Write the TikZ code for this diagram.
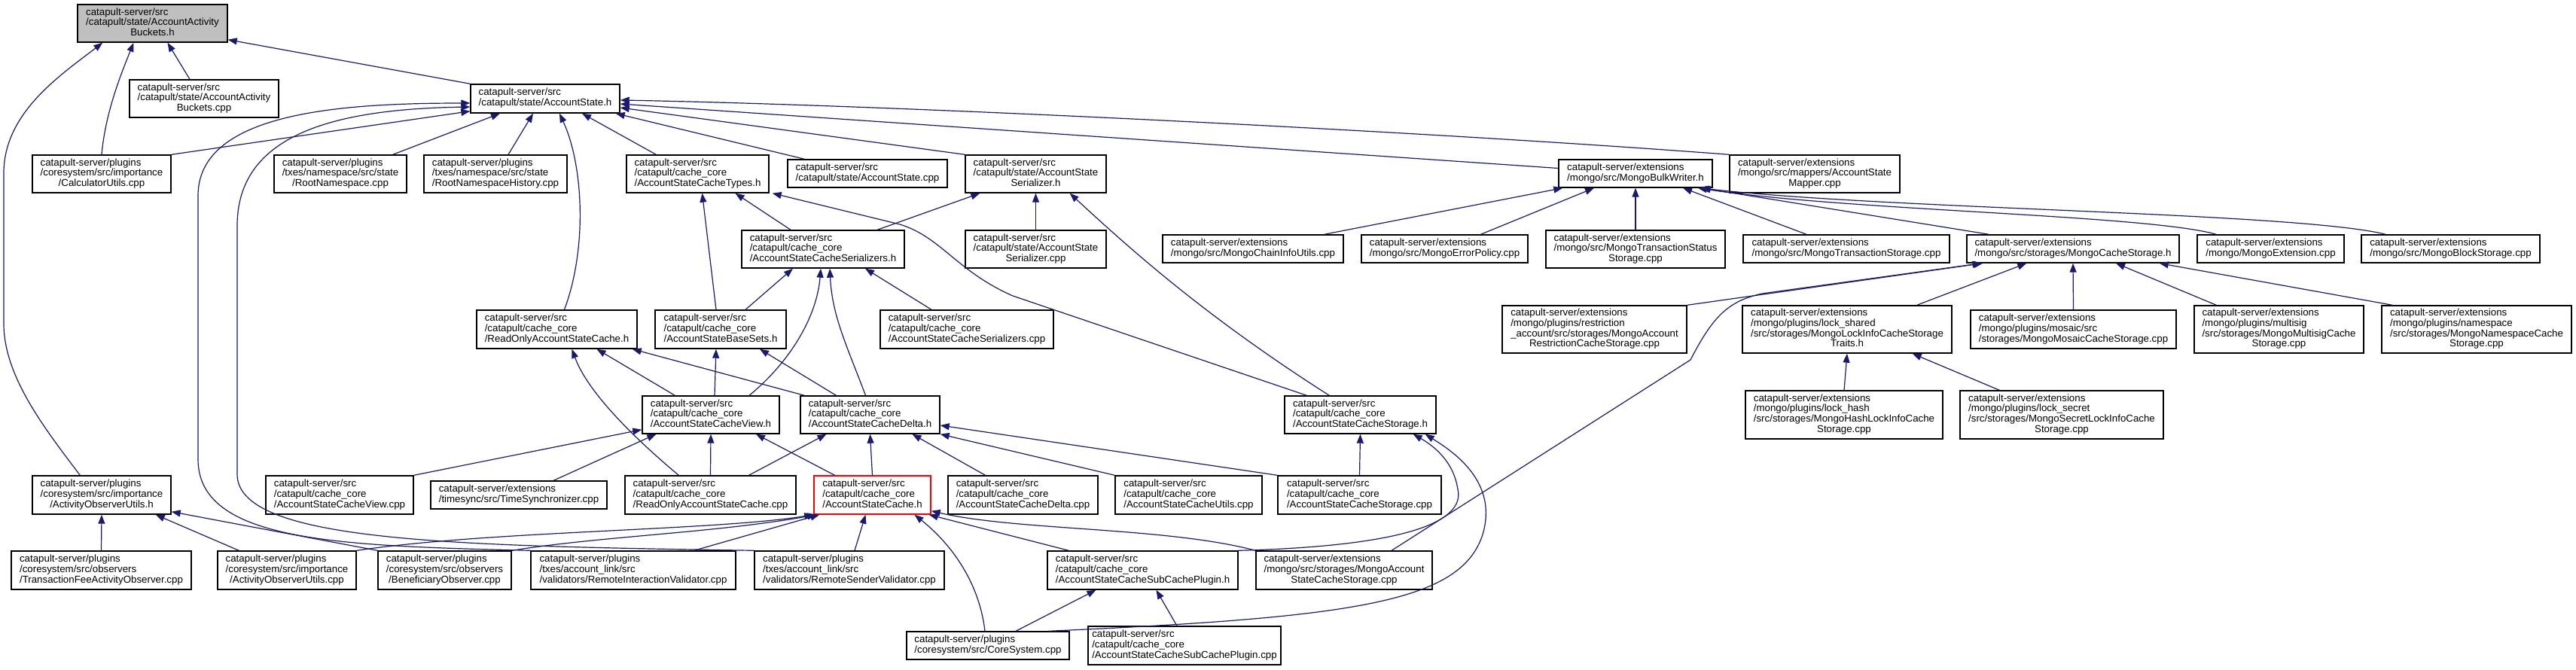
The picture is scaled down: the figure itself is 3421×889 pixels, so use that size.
\documentclass[tikz,border=0pt]{standalone}
\usepackage{fontspec}
\setmainfont{Liberation Sans}
\usetikzlibrary{arrows.meta}
\definecolor{midnight}{RGB}{25,25,112}
\definecolor{graybox}{RGB}{191,191,191}
% 文件名: 前几行左对齐, 最后一行居中
\newcommand{\fl}[2]{\begin{tabular}{@{}l@{}}#1\\\multicolumn{1}{@{}c@{}}{#2}\end{tabular}}

\begin{document}
\begin{tikzpicture}[x=1pt,y=-1pt,
  file/.style={draw=black, line width=1.4pt, fill=white, inner sep=0pt,
    font=\fontsize{13.3}{13.6}\selectfont},
  dep/.style={draw=midnight, line width=1.2pt, -{Triangle[length=12pt,width=9pt]}}]
  \useasboundingbox (0,0) rectangle (3421,889);
  % 第一层
  \node[file, fill=graybox, minimum width=199, minimum height=50] (aabh) at (202.5,31)
    {\fl{catapult-server/src\\/catapult/state/AccountActivity}{Buckets.h}};
  \node[file, minimum width=198, minimum height=50] (aabcpp) at (271,131)
    {\fl{catapult-server/src\\/catapult/state/AccountActivity}{Buckets.cpp}};
  \node[file, minimum width=198, minimum height=38] (ash) at (724,131)
    {\fl{catapult-server/src}{/catapult/state/AccountState.h}};
  % 第二层
  \node[file, minimum width=184, minimum height=50] (calc) at (135,231)
    {\fl{catapult-server/plugins\\/coresystem/src/importance}{/CalculatorUtils.cpp}};
  \node[file, minimum width=176, minimum height=50] (rootns) at (452,231)
    {\fl{catapult-server/plugins\\/txes/namespace/src/state}{/RootNamespace.cpp}};
  \node[file, minimum width=190, minimum height=50] (rootnsh) at (658,231)
    {\fl{catapult-server/plugins\\/txes/namespace/src/state}{/RootNamespaceHistory.cpp}};
  \node[file, minimum width=189, minimum height=50] (types) at (926.5,231)
    {\fl{catapult-server/src\\/catapult/cache\_core}{/AccountStateCacheTypes.h}};
  \node[file, minimum width=212, minimum height=37] (ascpp) at (1152,230.5)
    {\fl{catapult-server/src}{/catapult/state/AccountState.cpp}};
  \node[file, minimum width=187, minimum height=50] (sersh) at (1375.5,231)
    {\fl{catapult-server/src\\/catapult/state/AccountState}{Serializer.h}};
  \node[file, minimum width=204, minimum height=37] (bulk) at (2172,230.5)
    {\fl{catapult-server/extensions}{/mongo/src/MongoBulkWriter.h}};
  \node[file, minimum width=226, minimum height=50] (mapper) at (2410,231)
    {\fl{catapult-server/extensions\\/mongo/src/mappers/AccountState}{Mapper.cpp}};
  % 第三层
  \node[file, minimum width=216, minimum height=50] (cser) at (1093,331)
    {\fl{catapult-server/src\\/catapult/cache\_core}{/AccountStateCacheSerializers.h}};
  \node[file, minimum width=187, minimum height=50] (serscpp) at (1375.5,331)
    {\fl{catapult-server/src\\/catapult/state/AccountState}{Serializer.cpp}};
  \node[file, minimum width=240, minimum height=37] (chaininfo) at (1664,330.5)
    {\fl{catapult-server/extensions}{/mongo/src/MongoChainInfoUtils.cpp}};
  \node[file, minimum width=221, minimum height=37] (errpol) at (1918.5,330.5)
    {\fl{catapult-server/extensions}{/mongo/src/MongoErrorPolicy.cpp}};
  \node[file, minimum width=238, minimum height=50] (txstatus) at (2172,331)
    {\fl{catapult-server/extensions\\/mongo/src/MongoTransactionStatus}{Storage.cpp}};
  \node[file, minimum width=274, minimum height=37] (txstore) at (2452,330.5)
    {\fl{catapult-server/extensions}{/mongo/src/MongoTransactionStorage.cpp}};
  \node[file, minimum width=282, minimum height=37] (mcs) at (2753,330.5)
    {\fl{catapult-server/extensions}{/mongo/src/storages/MongoCacheStorage.h}};
  \node[file, minimum width=195, minimum height=37] (mext) at (3015.5,330.5)
    {\fl{catapult-server/extensions}{/mongo/MongoExtension.cpp}};
  \node[file, minimum width=237, minimum height=37] (mblock) at (3254.5,330.5)
    {\fl{catapult-server/extensions}{/mongo/src/MongoBlockStorage.cpp}};
  % 第四层
  \node[file, minimum width=213, minimum height=51] (rocache) at (739.5,437.5)
    {\fl{catapult-server/src\\/catapult/cache\_core}{/ReadOnlyAccountStateCache.h}};
  \node[file, minimum width=174, minimum height=51] (basesets) at (957,437.5)
    {\fl{catapult-server/src\\/catapult/cache\_core}{/AccountStateBaseSets.h}};
  \node[file, minimum width=230, minimum height=51] (csercpp) at (1284,437.5)
    {\fl{catapult-server/src\\/catapult/cache\_core}{/AccountStateCacheSerializers.cpp}};
  \node[file, minimum width=245, minimum height=63] (restr) at (2117.5,437.5)
    {\fl{catapult-server/extensions\\/mongo/plugins/restriction\\\_account/src/storages/MongoAccount}{RestrictionCacheStorage.cpp}};
  \node[file, minimum width=278, minimum height=63] (traits) at (2453,437.5)
    {\fl{catapult-server/extensions\\/mongo/plugins/lock\_shared\\/src/storages/MongoLockInfoCacheStorage}{Traits.h}};
  \node[file, minimum width=273, minimum height=51] (mosaic) at (2753.5,437.5)
    {\fl{catapult-server/extensions\\/mongo/plugins/mosaic/src}{/storages/MongoMosaicCacheStorage.cpp}};
  \node[file, minimum width=225, minimum height=63] (multisig) at (3026.5,437.5)
    {\fl{catapult-server/extensions\\/mongo/plugins/multisig\\/src/storages/MongoMultisigCache}{Storage.cpp}};
  \node[file, minimum width=252, minimum height=63] (nsstore) at (3289,437.5)
    {\fl{catapult-server/extensions\\/mongo/plugins/namespace\\/src/storages/MongoNamespaceCache}{Storage.cpp}};
  % 第五层
  \node[file, minimum width=182, minimum height=50] (view) at (944,551)
    {\fl{catapult-server/src\\/catapult/cache\_core}{/AccountStateCacheView.h}};
  \node[file, minimum width=185, minimum height=50] (delta) at (1155.5,551)
    {\fl{catapult-server/src\\/catapult/cache\_core}{/AccountStateCacheDelta.h}};
  \node[file, minimum width=201, minimum height=50] (storh) at (1806.5,551)
    {\fl{catapult-server/src\\/catapult/cache\_core}{/AccountStateCacheStorage.h}};
  \node[file, minimum width=262, minimum height=64] (hashlock) at (2449,551)
    {\fl{catapult-server/extensions\\/mongo/plugins/lock\_hash\\/src/storages/MongoHashLockInfoCache}{Storage.cpp}};
  \node[file, minimum width=270, minimum height=64] (secretlock) at (2738,551)
    {\fl{catapult-server/extensions\\/mongo/plugins/lock\_secret\\/src/storages/MongoSecretLockInfoCache}{Storage.cpp}};
  % 第六层
  \node[file, minimum width=184, minimum height=51] (aouh) at (135,657.5)
    {\fl{catapult-server/plugins\\/coresystem/src/importance}{/ActivityObserverUtils.h}};
  \node[file, minimum width=196, minimum height=51] (viewcpp) at (451,657.5)
    {\fl{catapult-server/src\\/catapult/cache\_core}{/AccountStateCacheView.cpp}};
  \node[file, minimum width=234, minimum height=37] (timesync) at (689,657.5)
    {\fl{catapult-server/extensions}{/timesync/src/TimeSynchronizer.cpp}};
  \node[file, minimum width=227, minimum height=51] (rocpp) at (943.5,657.5)
    {\fl{catapult-server/src\\/catapult/cache\_core}{/ReadOnlyAccountStateCache.cpp}};
  \node[file, draw=red, minimum width=155, minimum height=51] (cache) at (1158.5,657.5)
    {\fl{catapult-server/src\\/catapult/cache\_core}{/AccountStateCache.h}};
  \node[file, minimum width=199, minimum height=51] (deltacpp) at (1358.5,657.5)
    {\fl{catapult-server/src\\/catapult/cache\_core}{/AccountStateCacheDelta.cpp}};
  \node[file, minimum width=195, minimum height=51] (utilscpp) at (1578.5,657.5)
    {\fl{catapult-server/src\\/catapult/cache\_core}{/AccountStateCacheUtils.cpp}};
  \node[file, minimum width=217, minimum height=51] (storcpp) at (1805.5,657.5)
    {\fl{catapult-server/src\\/catapult/cache\_core}{/AccountStateCacheStorage.cpp}};
  % 第七层
  \node[file, minimum width=239, minimum height=51] (feeobs) at (134.5,757.5)
    {\fl{catapult-server/plugins\\/coresystem/src/observers}{/TransactionFeeActivityObserver.cpp}};
  \node[file, minimum width=184, minimum height=51] (aoucpp) at (381,757.5)
    {\fl{catapult-server/plugins\\/coresystem/src/importance}{/ActivityObserverUtils.cpp}};
  \node[file, minimum width=177, minimum height=51] (benef) at (590.5,757.5)
    {\fl{catapult-server/plugins\\/coresystem/src/observers}{/BeneficiaryObserver.cpp}};
  \node[file, minimum width=272, minimum height=51] (remint) at (841,757.5)
    {\fl{catapult-server/plugins\\/txes/account\_link/src}{/validators/RemoteInteractionValidator.cpp}};
  \node[file, minimum width=252, minimum height=51] (remsend) at (1128,757.5)
    {\fl{catapult-server/plugins\\/txes/account\_link/src}{/validators/RemoteSenderValidator.cpp}};
  \node[file, minimum width=253, minimum height=51] (subh) at (1517.5,757.5)
    {\fl{catapult-server/src\\/catapult/cache\_core}{/AccountStateCacheSubCachePlugin.h}};
  \node[file, minimum width=234, minimum height=51] (mascs) at (1785,757.5)
    {\fl{catapult-server/extensions\\/mongo/src/storages/MongoAccount}{StateCacheStorage.cpp}};
  % 第八层
  \node[file, minimum width=216, minimum height=37] (coresys) at (1312,857.5)
    {\fl{catapult-server/plugins}{/coresystem/src/CoreSystem.cpp}};
  \node[file, minimum width=256, minimum height=51] (subcpp) at (1573,857.5)
    {\fl{catapult-server/src\\/catapult/cache\_core}{/AccountStateCacheSubCachePlugin.cpp}};

  % AccountActivityBuckets.h
  \draw[dep] ([xshift=64]aouh.north west) .. controls (60,570) and (5,500) .. (5,430)
    -- (5,230) .. controls (5,150) and (80,100) .. ([xshift=34]aabh.south west);
  \draw[dep] (calc.north) .. controls (140,150) and (160,100) .. ([xshift=-25]aabh.south);
  \draw[dep] ([xshift=-19]aabcpp.north) -- ([xshift=20]aabh.south);
  \draw[dep] (ash.north west) -- ([yshift=4]aabh.south east);
  % AccountState.h
  \draw[dep] (calc.north east) -- ([yshift=3]ash.south west);
  \draw[dep] (remint.north west) .. controls (450,725) and (263,720) .. (263,610)
    -- (263,260) .. controls (263,150) and (450,137) .. ([yshift=-6]ash.west);
  \draw[dep] (remsend.north west) .. controls (600,725) and (315,720) .. (315,630)
    -- (315,300) .. controls (315,180) and (440,145) .. ([yshift=-11]ash.west);
  \draw[dep] ([xshift=-19]rootns.north east) -- ([xshift=-60]ash.south);
  \draw[dep] ([xshift=17]rootnsh.north) -- ([xshift=-16]ash.south);
  \draw[dep] ([xshift=10]rocache.north) .. controls (780,330) and (775,220) .. ([xshift=19]ash.south);
  \draw[dep] ([xshift=40]types.north west) -- ([xshift=49]ash.south);
  \draw[dep] ([xshift=23]ascpp.north west) -- ([xshift=-6]ash.south east);
  \draw[dep] (sersh.north west) -- ([yshift=-12]ash.east);
  \draw[dep] ([yshift=7]bulk.west) -- ([yshift=-7]ash.east);
  \draw[dep] (mapper.north west) .. controls (1900,175) and (1200,140) .. ([yshift=-2]ash.east);
  % AccountStateCacheTypes.h
  \draw[dep] ([xshift=-6]basesets.north) -- ([xshift=6]types.south);
  \draw[dep] ([xshift=-43]cser.north) -- ([xshift=50]types.south);
  \draw[dep] ([xshift=30]storh.north west) -- (1345,393) .. controls (1270,360) and (1250,315) .. (1195,298)
    -- ([xshift=4]types.south east);
  % AccountStateSerializer.h
  \draw[dep] ([xshift=72]cser.north) -- ([xshift=20]sersh.south west);
  \draw[dep] (serscpp.north) -- (sersh.south);
  \draw[dep] ([xshift=60]storh.north west) .. controls (1600,420) and (1500,330) .. ([xshift=-49]sersh.south east);
  % AccountStateCacheSerializers.h
  \draw[dep] ([xshift=33]basesets.north) -- ([xshift=-40]cser.south);
  \draw[dep] ([xshift=51]view.north) .. controls (1050,480) and (1085,420) .. ([xshift=-3]cser.south);
  \draw[dep] ([xshift=-6]delta.north) .. controls (1125,460) and (1105,420) .. ([xshift=9]cser.south);
  \draw[dep] ([xshift=-47]csercpp.north) -- ([xshift=56]cser.south);
  % AccountStateBaseSets.h
  \draw[dep] ([xshift=5]view.north) -- ([xshift=-6]basesets.south);
  \draw[dep] ([xshift=-45]delta.north) -- ([xshift=52]basesets.south);
  % ReadOnlyAccountStateCache.h
  \draw[dep] ([xshift=72]rocpp.north west) .. controls (840,580) and (780,520) .. ([xshift=20]rocache.south);
  \draw[dep] ([xshift=44]view.north west) -- ([xshift=53]rocache.south);
  \draw[dep] ([xshift=6]delta.north west) -- ([xshift=-7]rocache.south east);
  % AccountStateCacheView.h
  \draw[dep] (viewcpp.north east) -- ([yshift=6]view.south west);
  \draw[dep] ([xshift=46]timesync.north) -- ([xshift=19]view.south west);
  \draw[dep] (rocpp.north) -- (view.south);
  \draw[dep] ([xshift=-50]cache.north) -- ([xshift=60]view.south);
  % AccountStateCacheDelta.h
  \draw[dep] ([xshift=51]rocpp.north) -- ([xshift=-58]delta.south);
  \draw[dep] (cache.north) -- (delta.south);
  \draw[dep] ([xshift=-50]deltacpp.north) -- ([xshift=56]delta.south);
  \draw[dep] (utilscpp.north west) -- (delta.south east);
  \draw[dep] (storcpp.north west) -- ([yshift=-14]delta.east);
  % AccountStateCacheStorage.h
  \draw[dep] (storcpp.north) -- (storh.south);
  \draw[dep] (subh.north east) .. controls (1880,725) and (1945,690) .. (1936,650)
    .. controls (1930,610) and (1900,590) .. ([xshift=-31]storh.south east);
  \draw[dep] ([xshift=81]coresys.north) .. controls (1800,820) and (1940,800) .. (1969,710)
    .. controls (1990,640) and (1930,600) .. ([xshift=-15]storh.south east);
  % AccountStateCache.h
  \draw[dep] (aoucpp.north east) .. controls (650,705) and (950,705) .. (cache.south west);
  \draw[dep] (benef.north east) .. controls (800,712) and (950,708) .. ([xshift=4]cache.south west);
  \draw[dep] ([xshift=-56]remint.north east) -- ([xshift=8]cache.south west);
  \draw[dep] ([xshift=7]remsend.north) -- ([xshift=-9]cache.south);
  \draw[dep] ([xshift=-4]coresys.north) .. controls (1300,770) and (1260,720) .. ([xshift=56]cache.south);
  \draw[dep] ([xshift=29]subh.north west) -- ([xshift=-3]cache.south east);
  \draw[dep] (mascs.north west) .. controls (1550,700) and (1350,705) .. ([yshift=5]cache.south east);
  % ActivityObserverUtils.h
  \draw[dep] (feeobs.north) -- (aouh.south);
  \draw[dep] ([xshift=29]aoucpp.north west) -- ([xshift=-21]aouh.south east);
  \draw[dep] (benef.north west) -- ([yshift=4]aouh.south east);
  % AccountStateCacheSubCachePlugin.h
  \draw[dep] ([xshift=37]coresys.north) -- ([xshift=-62]subh.south);
  \draw[dep] ([xshift=-10]subcpp.north) -- ([xshift=18]subh.south);
  % MongoBulkWriter.h
  \draw[dep] ([xshift=-26]chaininfo.north east) -- ([xshift=6]bulk.south west);
  \draw[dep] ([xshift=48]errpol.north) -- ([xshift=-55]bulk.south);
  \draw[dep] (txstatus.north) -- (bulk.south);
  \draw[dep] ([xshift=-53]txstore.north) -- ([xshift=63]bulk.south);
  \draw[dep] ([xshift=30]mcs.north west) -- ([xshift=-15]bulk.south east);
  \draw[dep] ([xshift=26]mext.north west) .. controls (2850,285) and (2450,280) .. ([xshift=-20]bulk.south east);
  \draw[dep] ([xshift=33]mblock.north west) .. controls (3050,282) and (2500,278) .. ([xshift=-17]bulk.south east);
  % MongoCacheStorage.h
  \draw[dep] (restr.north east) -- ([xshift=22]mcs.south west);
  \draw[dep] ([xshift=63]mascs.north) -- (2245,478) .. controls (2275,420) and (2295,400) .. (2340,390)
    -- ([xshift=20]mcs.south west);
  \draw[dep] ([xshift=-47]traits.north east) -- ([xshift=80]mcs.south west);
  \draw[dep] (mosaic.north) -- (mcs.south);
  \draw[dep] ([xshift=30]multisig.north west) -- ([xshift=57]mcs.south);
  \draw[dep] ([xshift=15]nsstore.north west) -- ([xshift=-27]mcs.south east);
  % MongoLockInfoCacheStorageTraits.h
  \draw[dep] (hashlock.north) -- (traits.south);
  \draw[dep] ([xshift=53]secretlock.north west) -- ([xshift=-53]traits.south east);
\end{tikzpicture}
\end{document}
